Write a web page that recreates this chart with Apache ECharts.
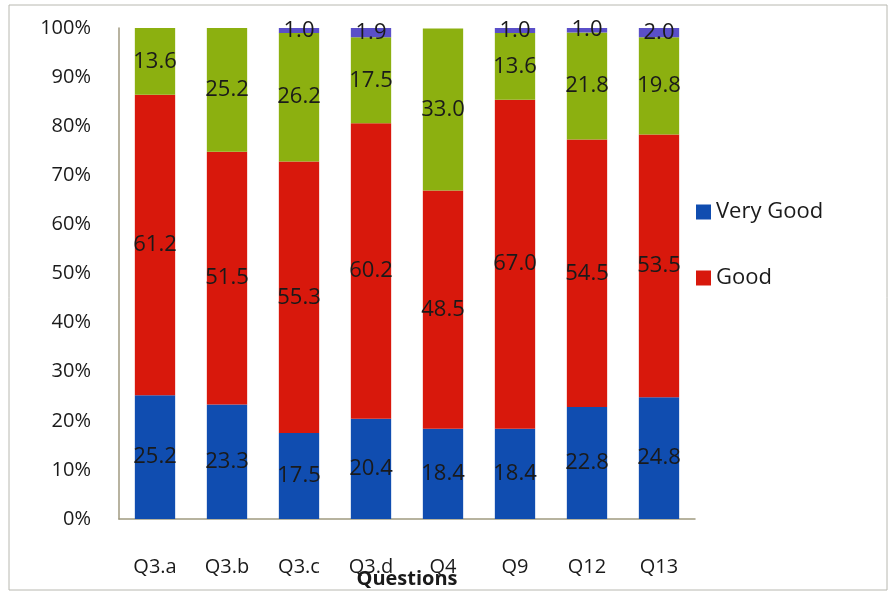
<!DOCTYPE html>
<html>
<head>
<meta charset="utf-8">
<script src="https://cdn.jsdelivr.net/npm/echarts@6/dist/echarts.min.js"></script>
<style>
html,body{margin:0;padding:0;background:#fff;}
#c{width:890px;height:595px;}
</style>
</head>
<body>
<div id="c"></div>
<script>
const categories = ['Q3.a','Q3.b','Q3.c','Q3.d','Q4','Q9','Q12','Q13'];
const veryGood = [25.2, 23.3, 17.5, 20.4, 18.4, 18.4, 22.8, 24.8];
const good     = [61.2, 51.5, 55.3, 60.2, 48.5, 67.0, 54.5, 53.5];
const fair     = [13.6, 25.2, 26.2, 17.5, 33.0, 13.6, 21.8, 19.8];
const poor     = [null, null, 1.0, 1.9, null, 1.0, 1.0, 2.0];
const yTicks = [0,10,20,30,40,50,60,70,80,90,100];

const chart = echarts.init(document.getElementById('c'));
const font = '"Open Sans", "Liberation Sans", sans-serif';
const lbl = {
  show: true, position: 'inside', color: '#1a1a1a', fontSize: 22,
  fontFamily: font, formatter: p => p.value == null ? '' : p.value.toFixed(1)
};
function ser(name, data, color) {
  return { name, type: 'bar', stack: 'all', data, barCategoryGap: '44%',
    itemStyle: { color }, label: lbl, emphasis: { disabled: true } };
}
chart.setOption({
  animation: false,
  backgroundColor: '#fff',
  grid: { left: 119, right: 195, top: 28, bottom: 76, containLabel: false, outerBoundsMode: 'none' },
  graphic: [{ type: 'rect', shape: { x: 9, y: 5, width: 878, height: 585 },
    style: { fill: 'none', stroke: '#b8b8b0', lineWidth: 1 } }],
  legend: {
    data: ['Very Good', 'Good'], orient: 'vertical', left: 691, top: 196,
    itemWidth: 15, itemHeight: 15, itemGap: 44, icon: 'rect',
    textStyle: { fontSize: 22, fontFamily: font, color: '#1a1a1a' }
  },
  xAxis: {
    type: 'category', data: categories,
    name: 'Questions', nameLocation: 'middle', nameGap: 50, nameMoveOverlap: false,
    nameTextStyle: { fontSize: 20, fontWeight: 'bold', fontFamily: font, color: '#1a1a1a' },
    axisLine: { lineStyle: { color: '#a09a80', width: 1.5 } },
    axisTick: { show: false },
    axisLabel: { fontSize: 20, fontFamily: font, color: '#1a1a1a', margin: 38 }
  },
  yAxis: {
    type: 'value', min: yTicks[0], max: yTicks[yTicks.length-1], interval: 10,
    axisLine: { show: true, lineStyle: { color: '#a09a80', width: 1.5 } },
    axisTick: { show: false }, splitLine: { show: false },
    axisLabel: { fontSize: 20, fontFamily: font, color: '#1a1a1a', margin: 28, formatter: '{value}%' }
  },
  series: [
    ser('Very Good', veryGood, '#104db0'),
    ser('Good', good, '#d8180c'),
    ser('Fair', fair, '#8cb010'),
    ser('Poor', poor, '#5a4fc8')
  ]
});
</script>
</body>
</html>
